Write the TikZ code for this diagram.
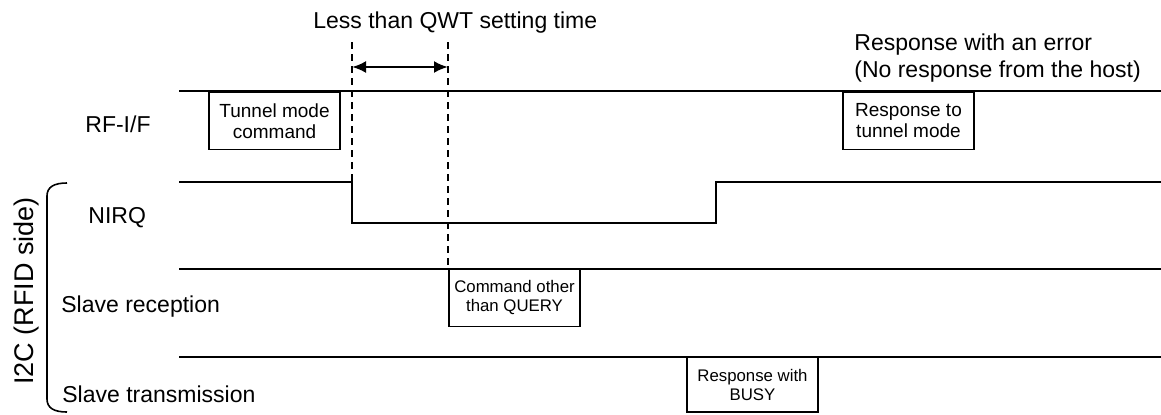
\documentclass[tikz,border=0pt]{standalone}
\usepackage{fontspec}
\setmainfont{Liberation Sans}
\usetikzlibrary{arrows.meta}

\begin{document}
\begin{tikzpicture}[x=0.5pt,y=-0.5pt,
  sig/.style={line width=0.8pt},
  marker/.style={line width=0.8pt,dash pattern=on 3.5pt off 2.5pt},
  lbl/.style={inner sep=0pt,anchor=base west,font=\fontsize{11.5}{13.5}\selectfont},
  msgbox/.style={draw,line width=0.8pt,anchor=north west,inner sep=0pt,outer sep=0pt,
    minimum width=65.5pt,minimum height=28.8pt,align=center,font=\fontsize{9.5}{10.5}\selectfont},
  smallbox/.style={msgbox,font=\fontsize{8.4}{9.5}\selectfont}]

\useasboundingbox (0,0) rectangle (1161,414);

% signal lines
\draw[sig] (179,91) -- (1161,91);
\draw[sig] (179,182) -- (352,182) -- (352,223) -- (716,223) -- (716,182) -- (1161,182);
\draw[sig] (179,269) -- (1161,269);
\draw[sig] (179,357) -- (1161,357);

% row labels
\node[lbl] (rfif) at (85,132) {RF-I/F};
\node[lbl] (nirq) at (88,223) {NIRQ};
\node[lbl] (slaverx) at (61,312) {Slave reception};
\node[lbl] (slavetx) at (62,402) {Slave transmission};

\draw[sig] (67,183) .. controls (54,183) and (47,187) .. (47,196) -- (47,399)
  .. controls (47,408) and (54,412) .. (67,412);
\node[rotate=90,anchor=base,inner sep=0pt,font=\fontsize{13.5}{15}\selectfont] (i2c) at (33,291) {I2C (RFID side)};

% QWT window
\coordinate (qwtstart) at (352,42);
\coordinate (qwtend) at (448,42);
\coordinate (qwtstartlow) at (352,223);
\coordinate (qwtendlow) at (448,269);
\coordinate (qwtarrowa) at (352,67);
\coordinate (qwtarrowb) at (448,67);
\draw[marker] (qwtstart) -- (qwtstartlow);
\draw[marker] (qwtend) -- (qwtendlow);
\draw[line width=1.2pt,{Latex[length=7pt,width=6pt]}-{Latex[length=7pt,width=6pt]}] (qwtarrowa) -- (qwtarrowb);
\node[lbl] (qwt) at (313,28) {Less than QWT setting time};

\node[lbl,align=left,anchor=north west] (error) at (854,33.5) {Response with an error\\(No response from the host)};

% messages
\node[msgbox] (tunnelcmd) at (209,92) {Tunnel mode\\command};
\node[msgbox] (tunnelresp) at (843,92) {Response to\\tunnel mode};
\node[smallbox] (othercmd) at (449,269) {Command other\\than QUERY};
\node[smallbox,minimum height=27.5pt] (busyresp) at (687,357) {Response with\\BUSY};

\end{tikzpicture}
\end{document}
